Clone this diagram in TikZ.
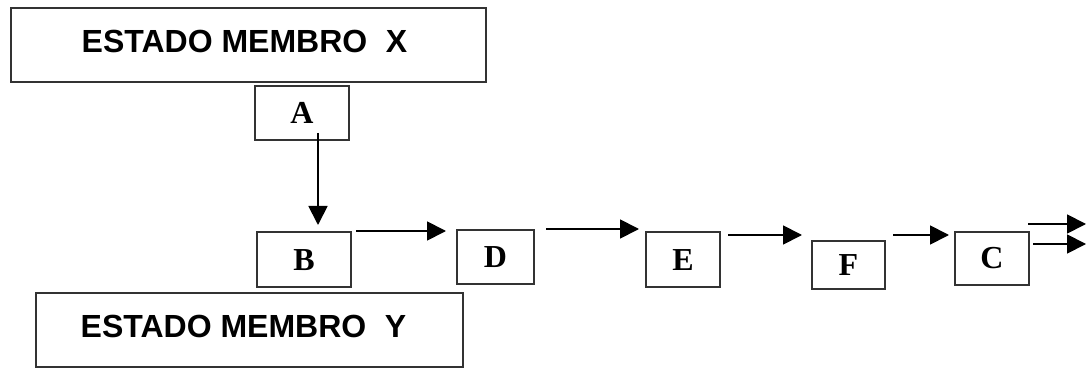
\documentclass[tikz,border=0pt]{standalone}
\usepackage{fontspec}
\setmainfont{Liberation Serif}
\setsansfont{Liberation Sans}
\usetikzlibrary{arrows.meta}
\begin{document}
\begin{tikzpicture}[x=1pt,y=-1pt,
  box/.style={draw=black!80,line width=1.8pt,inner sep=0pt,fill=white},
  bigbox/.style={box,font=\sffamily\bfseries\fontsize{32}{34}\selectfont,text height=23pt,text depth=8pt},
  letterbox/.style={box,font=\rmfamily\bfseries\fontsize{32}{34}\selectfont,text height=21pt,text depth=0pt},
  arr/.style={line width=1.8pt,-{Triangle[length=19pt,width=19pt]}}]
\useasboundingbox (0,0) rectangle (1086,387);
\node[bigbox,minimum width=475,minimum height=74] (X) at (248.5,45) {ESTADO MEMBRO\hspace{0.58em}X\hspace*{8pt}};
\node[bigbox,minimum width=427,minimum height=74] (Y) at (249.5,330) {ESTADO MEMBRO\hspace{0.58em}Y\hspace*{12pt}};
\node[letterbox,minimum width=94,minimum height=54] (A) at (302,113) {A};
\node[letterbox,minimum width=94,minimum height=55] (B) at (304,259.5) {B};
\node[letterbox,minimum width=77,minimum height=54] (D) at (495.5,257) {D};
\node[letterbox,minimum width=74,minimum height=55] (E) at (683,259.5) {E};
\node[letterbox,minimum width=73,minimum height=48] (F) at (848.5,265) {F};
\node[letterbox,minimum width=74,minimum height=53] (C) at (992,258.5) {C};
\coordinate (a0) at (318,133);
\coordinate (a1) at (318,225);
\coordinate (b0) at (356,231);
\coordinate (b1) at (446,231);
\coordinate (d0) at (546,229);
\coordinate (d1) at (639,229);
\coordinate (e0) at (728,235);
\coordinate (e1) at (802,235);
\coordinate (f0) at (893,235);
\coordinate (f1) at (949,235);
\coordinate (c0) at (1028,224);
\coordinate (c1) at (1086,224);
\coordinate (c2) at (1033,244);
\coordinate (c3) at (1086,244);
\draw[arr] (a0) -- (a1);
\draw[arr] (b0) -- (b1);
\draw[arr] (d0) -- (d1);
\draw[arr] (e0) -- (e1);
\draw[arr] (f0) -- (f1);
\draw[arr] (c0) -- (c1);
\draw[arr] (c2) -- (c3);
\end{tikzpicture}
\end{document}
